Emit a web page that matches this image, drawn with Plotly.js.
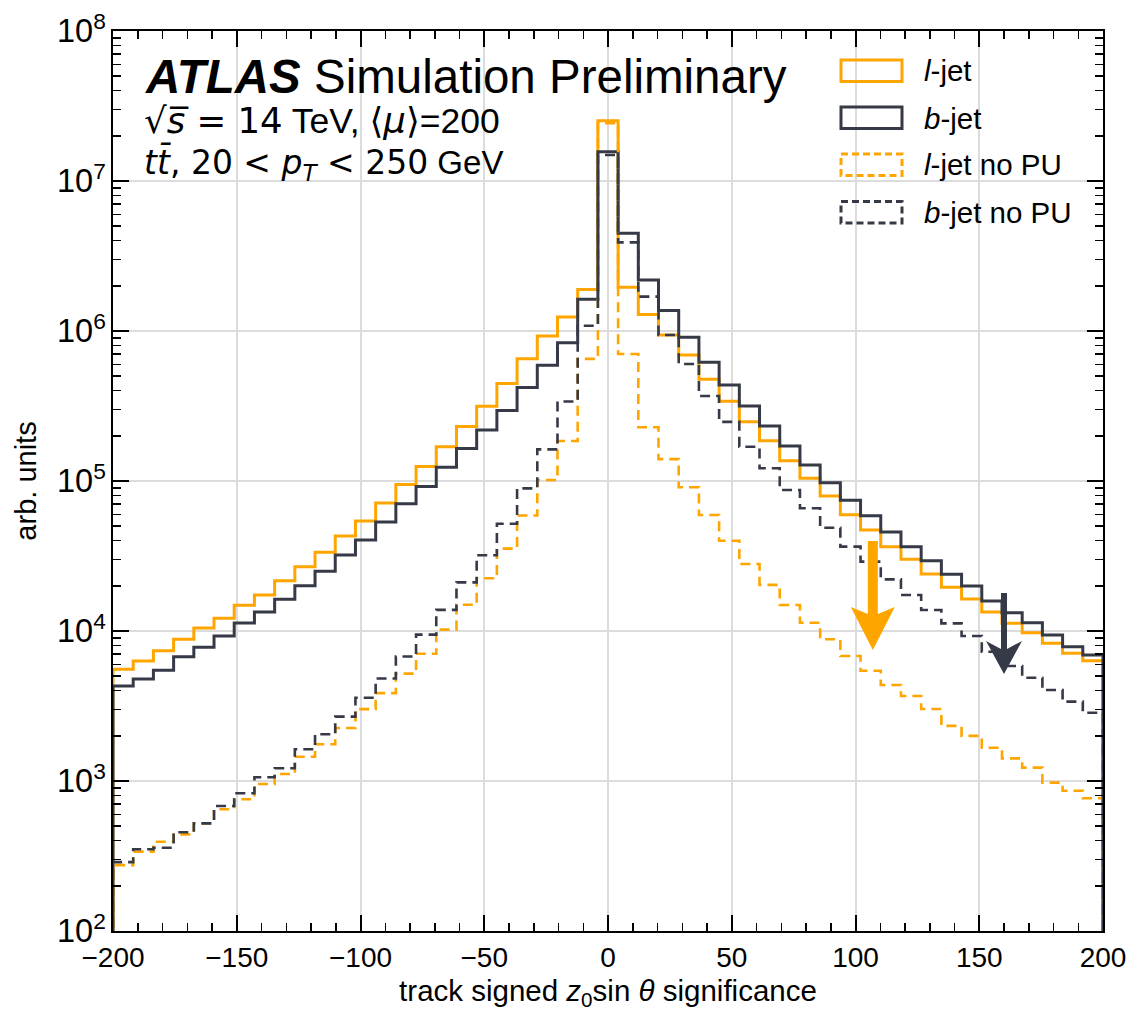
<!DOCTYPE html>
<html>
<head>
<meta charset="utf-8">
<script src="https://cdn.plot.ly/plotly-3.0.1.min.js"></script>
<style>
  html, body { margin: 0; padding: 0; background: #ffffff; }
  #chart { width: 1132px; height: 1011px; }
</style>
</head>
<body>
<div id="chart"></div>
<script>
// ---- binning: 49 equal bins from -200 to 200 ----
const binLow = -200;
const binHigh = 200;
const nBins = 49;

// ---- series: bin contents (arb. units), left to right ----
const lJet = [5560, 6310, 7390, 8810, 10470, 12160, 14840, 17380, 21640, 26830,
  33500, 43000, 54200, 71400, 94600, 124700, 169000, 231000, 315000, 446000,
  652000, 927000, 1242000, 1890000, 25200000, 1955000, 1290000, 940000, 692000, 476000,
  340000, 248000, 185700, 136500, 104200, 79400, 59600, 47100, 36500, 30100,
  24000, 19550, 16340, 13390, 11250, 9740, 8280, 7100, 6340];

const bJet = [4300, 4790, 5470, 6740, 7790, 9260, 11310, 13390, 16260, 20000,
  25000, 32100, 40500, 53300, 70600, 92000, 123300, 164400, 219000, 295000,
  420000, 590000, 836000, 1626000, 15670000, 4480000, 2190000, 1371000, 908000, 618000,
  437000, 316000, 233000, 171100, 127900, 97500, 74300, 58600, 45700, 36500,
  29400, 23900, 19950, 15850, 13240, 11350, 9400, 7850, 6920];

const lJetNoPU = [275, 338, 394, 441, 522, 648, 755, 955, 1113, 1452,
  1757, 2254, 3013, 3855, 5200, 7047, 10210, 14960, 22490, 35400,
  58900, 101600, 184900, 652000, 24300000, 703000, 228000, 140000, 90800, 59300,
  40000, 28000, 20300, 14900, 11350, 8810, 6810, 5430, 4370, 3690,
  3020, 2330, 2000, 1667, 1416, 1227, 975, 861, 767];

const bJetNoPU = [288, 351, 359, 455, 522, 681, 828, 1059, 1216, 1627,
  2048, 2685, 3589, 4819, 6761, 9462, 13840, 21100, 32000, 51900,
  89300, 162600, 339000, 1084000, 14900000, 3900000, 1694000, 940000, 603000, 369000,
  248000, 169300, 121600, 87100, 65800, 48800, 36500, 29000, 22100, 17380,
  13800, 11250, 9260, 7280, 5840, 4880, 4040, 3380, 2850];

const seriesNames = ["<i>l</i>-jet", "<i>b</i>-jet", "<i>l</i>-jet no PU", "<i>b</i>-jet no PU"];

// arrows marking the tails (x position, tip value)
const arrowX = [107, 160];
const arrowTip = [7470, 5170];

// tick labels
const xTickVals = [-200, -150, -100, -50, 0, 50, 100, 150, 200];
const xTickText = ["\u2212200", "\u2212150", "\u2212100", "\u221250", "0", "50", "100", "150", "200"];

// ---- build ----
const ORANGE = "#FFA500";
const DARK = "#363a47";

const edges = [];
for (let k = 0; k <= nBins; k++) edges.push(binLow + (binHigh - binLow) * k / nBins);

function stepTrace(vals, color, dash, width) {
  const x = [edges[0]];
  const y = [1];
  for (let i = 0; i < vals.length; i++) { x.push(edges[i]); y.push(vals[i]); }
  x.push(edges[nBins]); y.push(vals[vals.length - 1]);
  x.push(edges[nBins]); y.push(1);
  return {
    type: "scatter", mode: "lines", x: x, y: y,
    line: { shape: "hv", color: color, width: width, dash: dash },
    hoverinfo: "skip", showlegend: false
  };
}

const data = [
  stepTrace(lJet, ORANGE, "solid", 3),
  stepTrace(bJet, DARK, "solid", 3),
  stepTrace(lJetNoPU, ORANGE, "10px,6px", 2.6),
  stepTrace(bJetNoPU, DARK, "10px,6px", 2.6)
];

const L = 113, R = 1103, T = 31, B = 931;
const W = R - L, H = B - T;
const px = v => (v - L) / W;
const py = v => (B - v) / H;

const shapes = [];
const annotations = [];
const SANS = "Liberation Sans, Arial, sans-serif";

// legend (manual, rectangle patches)
const legColors = [ORANGE, DARK, ORANGE, DARK];
const legDash = ["solid", "solid", "dash", "dash"];
const legTop = [60, 107, 154, 201.5];
for (let i = 0; i < 4; i++) {
  shapes.push({
    type: "rect", xref: "paper", yref: "paper",
    x0: px(841), x1: px(902), y0: py(legTop[i]), y1: py(legTop[i] + 21.5),
    line: { color: legColors[i], width: 3, dash: legDash[i] === "dash" ? "7px,4px" : "solid" },
    fillcolor: "rgba(0,0,0,0)"
  });
  annotations.push({
    xref: "paper", yref: "paper", x: px(922), y: py(legTop[i] + 11),
    xanchor: "left", yanchor: "middle", showarrow: false,
    text: seriesNames[i],
    font: { family: SANS, size: 29.5, color: "#000" }
  });
}

// arrows: pixel geometry anchored at the tip (data coordinates)
const arrowPaths = [
  "M0,0 L22,43 L5,36 L5,109 L-5,109 L-5,36 L-22,43 Z",
  "M0,0 L18,33 L3,25 L3,81 L-3,81 L-3,25 L-18,33 Z"
];
const arrowColors = [ORANGE, DARK];
for (let i = 0; i < 2; i++) {
  shapes.push({
    type: "path", xref: "x", yref: "y",
    xsizemode: "pixel", ysizemode: "pixel",
    xanchor: arrowX[i], yanchor: arrowTip[i],
    path: arrowPaths[i],
    fillcolor: arrowColors[i], line: { width: 0 }
  });
}

// ATLAS label
annotations.push({
  xref: "paper", yref: "paper", x: px(143), y: py(76), xanchor: "left", yanchor: "middle",
  showarrow: false,
  text: "<b><i>ATLAS</i></b> Simulation Preliminary",
  font: { family: SANS, size: 47.5, color: "#000" }
});
annotations.push({
  xref: "paper", yref: "paper", x: px(142), y: py(120), xanchor: "left", yanchor: "middle",
  showarrow: false,
  text: "<span style='font-family:DejaVu Sans'>\u221A<i>s\u0305</i> = 14</span> TeV, <span style='font-family:DejaVu Sans'>\u27E8<i>\u03BC</i>\u27E9</span>=200",
  font: { family: SANS, size: 35.5, color: "#000" }
});
annotations.push({
  xref: "paper", yref: "paper", x: px(142), y: py(164), xanchor: "left", yanchor: "middle",
  showarrow: false,
  text: "<span style='font-family:DejaVu Sans'><i>t</i><i>t\u0304</i>, 20 &lt; <i>p</i><sub><i>T</i></sub> &lt; 250</span> GeV",
  font: { family: SANS, size: 33, color: "#000" }
});

const layout = {
  width: 1132, height: 1011,
  margin: { l: L, r: 1132 - R, t: T, b: 1011 - B, pad: 0 },
  paper_bgcolor: "#ffffff", plot_bgcolor: "#ffffff",
  showlegend: false,
  font: { family: SANS, color: "#000" },
  xaxis: {
    range: [binLow, binHigh], tickvals: xTickVals, ticktext: xTickText,
    ticks: "inside", ticklen: 16, tickwidth: 2, tickcolor: "#000",
    showline: true, linewidth: 2, linecolor: "#000", mirror: "allticks",
    showgrid: true, gridcolor: "#dcdcdc", gridwidth: 2, zeroline: false,
    tickfont: { size: 28, color: "#000" },
    minor: { dtick: 10, tick0: 0, ticks: "inside", ticklen: 8, tickwidth: 1.5, tickcolor: "#000", showgrid: false },
    title: { text: "track signed <i>z</i><sub>0</sub>sin <i>\u03B8</i> significance", font: { size: 29.5, color: "#000" }, standoff: 10 }
  },
  yaxis: {
    type: "log", range: [2, 8], dtick: 1, exponentformat: "power",
    ticks: "inside", ticklen: 16, tickwidth: 2, tickcolor: "#000",
    showline: true, linewidth: 2, linecolor: "#000", mirror: "allticks",
    showgrid: true, gridcolor: "#dcdcdc", gridwidth: 2, zeroline: false,
    tickfont: { size: 26, color: "#000" },
    minor: { dtick: "D1", ticks: "inside", ticklen: 8, tickwidth: 1.5, tickcolor: "#000", showgrid: false },
    title: { text: "arb. units", font: { size: 29, color: "#000" }, standoff: 12 }
  },
  shapes: shapes,
  annotations: annotations
};

Plotly.newPlot("chart", data, layout, { staticPlot: true, displayModeBar: false });
</script>
</body>
</html>
